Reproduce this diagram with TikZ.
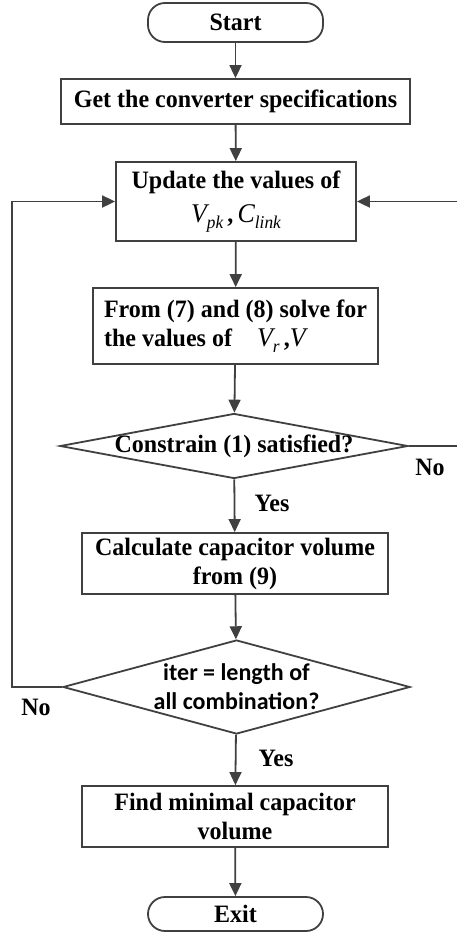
\documentclass[tikz,border=0pt]{standalone}
\usepackage{fontspec}
\setmainfont[FakeStretch=0.96]{Liberation Serif}
\newfontfamily\carlito{Carlito}
\usetikzlibrary{shapes.geometric,arrows.meta}
\definecolor{lc}{HTML}{404040}
\newcommand\varsub[2]{{\fontsize{27}{27}\selectfont\mdseries\itshape #1}\raisebox{-6pt}{\fontsize{18}{18}\selectfont\mdseries\itshape #2}}
\newcommand\varmain[1]{{\fontsize{27}{27}\selectfont\mdseries\itshape #1}}
\begin{document}
\begin{tikzpicture}[x=1pt,y=-1pt,
  line/.style={draw=lc, line width=1.8pt},
  arr/.style={line, -{Triangle[length=13pt,width=12pt]}},
  box/.style={draw=lc, line width=1.8pt, rectangle, inner sep=0pt, align=center,
    font=\fontsize{25}{29}\selectfont\bfseries},
  term/.style={box, rounded corners=17pt},
  dec/.style={draw=lc, line width=1.8pt, diamond, inner sep=0pt},
  lab/.style={font=\fontsize{25}{29}\selectfont\bfseries}]
\useasboundingbox (0,0) rectangle (456,932);

\node[term, minimum width=175pt, minimum height=39pt] (start) at (235.5,22.5) {Start};
\node[box, minimum width=349pt, minimum height=45pt] (get) at (235.5,101.5) {Get the converter specifications};
\node[box, minimum width=240pt, minimum height=79pt] (upd) at (236,201.5)
  {Update the values of\\[5pt] \varsub{V}{pk}\,,\,\varsub{C}{link}};
\node[box, minimum width=285pt, minimum height=76pt, align=left] (from) at (235.5,326)
  {From (7) and (8) solve for\\the values of\quad \varsub{V}{r}\,,\varmain{V}};
\node[dec, minimum width=348pt, minimum height=65pt] (d1) at (234,446) {};
\node[lab] (t1) at (d1.center) {Constrain (1) satisfied?};
\node[box, minimum width=306pt, minimum height=61pt] (calc) at (235,563.5)
  {Calculate capacitor volume\\from (9)};
\node[dec, minimum width=347pt, minimum height=94pt] (d2) at (236.5,687) {};
\node[align=center, font=\carlito\fontsize{24}{29}\selectfont\bfseries] (t2) at (d2.center)
  {iter = length of\\all combination?};
\node[box, minimum width=306pt, minimum height=61pt] (find) at (235,816.5)
  {Find minimal capacitor\\volume};
\node[term, minimum width=175pt, minimum height=34pt] (exit) at (235.5,914) {Exit};

\draw[arr] (start) -- (get);
\draw[arr] (get) -- (upd);
\draw[arr] (upd) -- (from);
\draw[arr] (from) -- (d1);
\draw[arr] (d1) -- (calc);
\draw[arr] (calc) -- (d2);
\draw[arr] (d2) -- (find);
\draw[arr] (find) -- (exit);
\draw[arr] (d2.west) -- ++(-50,0) |- (upd.west);
\draw[arr] (d1.east) -- (470,446) |- (upd.east);

\node[lab] (no1) at (430,467) {No};
\node[lab] (no2) at (36,707) {No};
\node[lab] (yes1) at (272,503) {Yes};
\node[lab] (yes2) at (276,758) {Yes};
\end{tikzpicture}
\end{document}
